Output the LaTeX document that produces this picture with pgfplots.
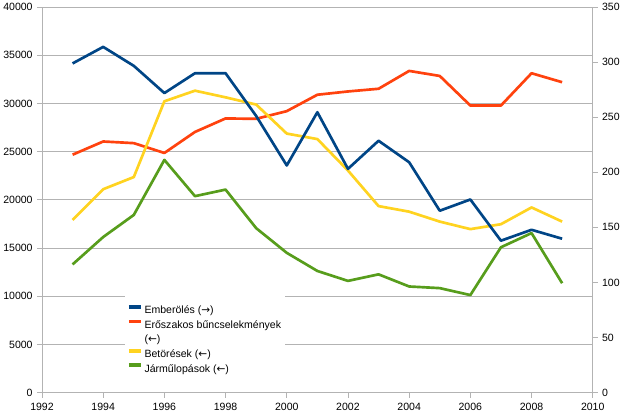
\documentclass[border=0pt]{standalone}
\usepackage{pgfplots}
\pgfplotsset{compat=1.18}
\usepackage{fontspec}
\setmainfont{Liberation Sans}
\newfontfamily\arrowfont{DejaVu Sans}
\newcommand{\ra}{{\arrowfont →}}
\newcommand{\la}{{\arrowfont ←}}
\definecolor{cblue}{HTML}{004586}
\definecolor{cred}{HTML}{FF420E}
\definecolor{cyellow}{HTML}{FFD320}
\definecolor{cgreen}{HTML}{579D1C}
\definecolor{axgray}{HTML}{B3B3B3}
\begin{document}
\begin{tikzpicture}
\pgfplotsset{
  every axis/.append style={
    scale only axis, width=557bp, height=390bp,
    xmin=1992, xmax=2010,
    tick label style={font=\fontsize{10.7}{12}\selectfont},
    /pgf/number format/assume math mode=true,
    /pgf/number format/1000 sep={},
    scaled ticks=false,
    tick align=outside,
    major tick length=5bp,
    axis line style={draw=axgray, line width=0.9bp},
    tick style={draw=axgray, line width=0.9bp},
  },
  dline/.style={line width=2.7bp, mark=none, line join=round},
}
\begin{axis}[
  axis x line*=bottom, axis y line*=left,
  ymin=0, ymax=40000, ytick={0,5000,...,40000},
  xtick={1992,1994,...,2010},
  ymajorgrids, grid style={draw=axgray, line width=0.9bp},
  yticklabel style={xshift=-1bp},
  xticklabel style={yshift=-2bp},
]
\addplot[cred, dline] coordinates {
(1993,24680) (1994,26050) (1995,25880) (1996,24860) (1997,27040) (1998,28440)
(1999,28400) (2000,29200) (2001,30900) (2002,31240) (2003,31520) (2004,33370)
(2005,32850) (2006,29780) (2007,29780) (2008,33130) (2009,32200)};
\addplot[cyellow, dline] coordinates {
(1993,17920) (1994,21100) (1995,22360) (1996,30220) (1997,31320) (1998,30630)
(1999,29880) (2000,26870) (2001,26300) (2002,23040) (2003,19350) (2004,18770)
(2005,17740) (2006,16960) (2007,17470) (2008,19210) (2009,17740)};
\addplot[cgreen, dline] coordinates {
(1993,13300) (1994,16140) (1995,18430) (1996,24140) (1997,20380) (1998,21060)
(1999,17060) (2000,14500) (2001,12620) (2002,11590) (2003,12270) (2004,11010)
(2005,10840) (2006,10120) (2007,15080) (2008,16550) (2009,11350)};
\end{axis}
\begin{axis}[
  axis y line*=right, axis x line=none,
  ymin=0, ymax=350, ytick={0,50,...,350},
  yticklabel style={xshift=1bp},
  legend style={at={(0.15,0.256)}, anchor=north west, draw=none, fill=white,
    font=\fontsize{10.7}{14.3}\selectfont, inner xsep=2bp, inner ysep=10bp, row sep=1.5bp,
    cells={anchor=base west, inner xsep=1.5bp, inner ysep=1bp}},
  legend cell align=left,
  legend image code/.code={\draw[#1, line width=4bp, line cap=butt] (0bp,3.8bp) -- (12bp,3.8bp);},
]
\addplot[cblue, dline] coordinates {
(1993,298.8) (1994,313.8) (1995,296.6) (1996,271.9) (1997,289.9) (1998,289.9)
(1999,251.1) (2000,206.2) (2001,254.5) (2002,203.1) (2003,228.6) (2004,209.1)
(2005,165.1) (2006,175.3) (2007,137.9) (2008,147.8) (2009,139.7)};
\addlegendentry{Emberölés (\ra)}
\addlegendimage{cred, dline}
\addlegendentry{Erőszakos bűncselekmények}
\addlegendimage{empty legend}
\addlegendentry{(\la)}
\addlegendimage{cyellow, dline}
\addlegendentry{Betörések (\la)}
\addlegendimage{cgreen, dline}
\addlegendentry{Járműlopások (\la)}
\end{axis}
\end{tikzpicture}
\end{document}
